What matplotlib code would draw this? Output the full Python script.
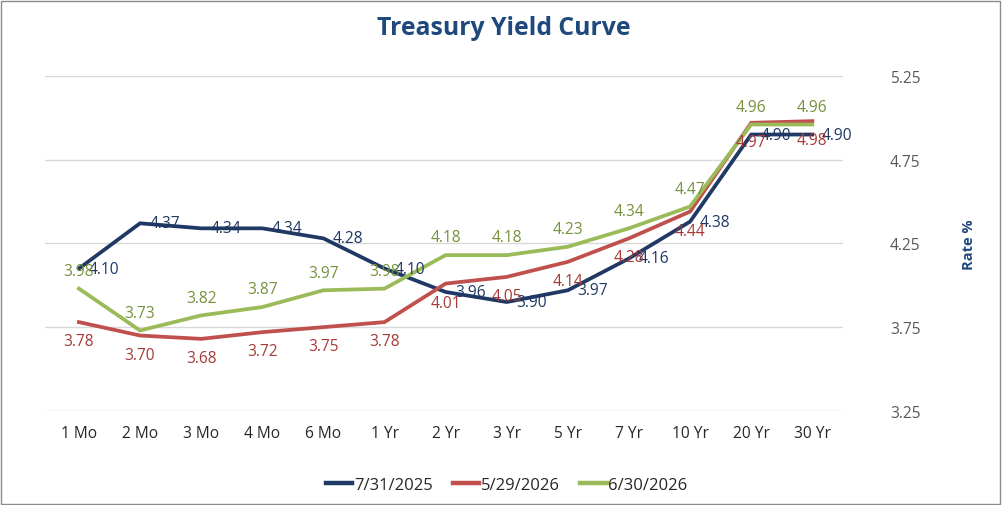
import matplotlib.pyplot as plt
from matplotlib.patches import Rectangle

plt.rcParams['font.family'] = ['Open Sans', 'DejaVu Sans']

maturities = ["1 Mo", "2 Mo", "3 Mo", "4 Mo", "6 Mo", "1 Yr", "2 Yr",
              "3 Yr", "5 Yr", "7 Yr", "10 Yr", "20 Yr", "30 Yr"]
yield_2025_07_31 = [4.10, 4.37, 4.34, 4.34, 4.28, 4.10, 3.96,
                    3.90, 3.97, 4.16, 4.38, 4.90, 4.90]
yield_2026_05_29 = [3.78, 3.70, 3.68, 3.72, 3.75, 3.78, 4.01,
                    4.05, 4.14, 4.28, 4.44, 4.97, 4.98]
yield_2026_06_30 = [3.98, 3.73, 3.82, 3.87, 3.97, 3.98, 4.18,
                    4.18, 4.23, 4.34, 4.47, 4.96, 4.96]
y_ticks = [3.25, 3.75, 4.25, 4.75, 5.25]

series = [
    ("7/31/2025", yield_2025_07_31, "#1F3864", "#1F3864", "right"),
    ("5/29/2026", yield_2026_05_29, "#C0504D", "#A63A37", "below"),
    ("6/30/2026", yield_2026_06_30, "#9BBB59", "#76923C", "above"),
]

fig = plt.figure(figsize=(10.07, 5.06), dpi=100)
ax = fig.add_axes([0.045, 0.186, 0.792, 0.662])

x = range(len(maturities))
fs = 11.2
for name, vals, col, lcol, pos in series:
    ax.plot(x, vals, color=col, lw=2.7, label=name, solid_joinstyle="miter")
    for xi, v in zip(x, vals):
        txt = f"{v:.2f}"
        if pos == "right":
            ax.annotate(txt, (xi, v), xytext=(7, 0), textcoords="offset points",
                        ha="left", va="center", color=lcol, fontsize=fs)
        elif pos == "below":
            ax.annotate(txt, (xi, v), xytext=(0, -8), textcoords="offset points",
                        ha="center", va="top", color=lcol, fontsize=fs)
        else:
            ax.annotate(txt, (xi, v), xytext=(0, 7), textcoords="offset points",
                        ha="center", va="bottom", color=lcol, fontsize=fs)

ax.set_xlim(-0.55, len(maturities) - 0.5)
ax.set_ylim(3.25, 5.25)
ax.set_yticks(y_ticks)
ax.set_yticklabels([f"{t:.2f}" for t in y_ticks])
ax.yaxis.tick_right()
ax.yaxis.set_label_position("right")
ax.set_xticks(list(x))
ax.set_xticklabels(maturities)
ax.tick_params(axis="y", length=0, pad=34, labelsize=fs, labelcolor="#595959")
ax.tick_params(axis="x", length=0, pad=10, labelsize=fs, labelcolor="#262626")
ax.grid(axis="y", color="#D9D9D9", lw=1)
ax.set_axisbelow(True)
for s in ["top", "right", "left", "bottom"]:
    ax.spines[s].set_visible(False)

ax.set_ylabel("Rate %", color="#1F497D", fontsize=10.5, fontweight="bold", labelpad=30)

fig.text(0.5, 0.943, "Treasury Yield Curve", ha="center", va="center",
         fontsize=17.8, fontweight="bold", color="#1F497D")

fig.legend(loc="lower center", bbox_to_anchor=(0.503, -0.005), ncol=3, frameon=False,
           fontsize=12, handlelength=1.6, handletextpad=0.1, columnspacing=1.2,
           labelcolor="#262626")
for line in fig.legends[0].get_lines():
    line.set_linewidth(3.2)

fig.patches.append(Rectangle((0.001, 0.002), 0.992, 0.994, transform=fig.transFigure,
                             fill=False, edgecolor="#8C8C8C", lw=1))

fig.savefig("out.png", dpi=100)
